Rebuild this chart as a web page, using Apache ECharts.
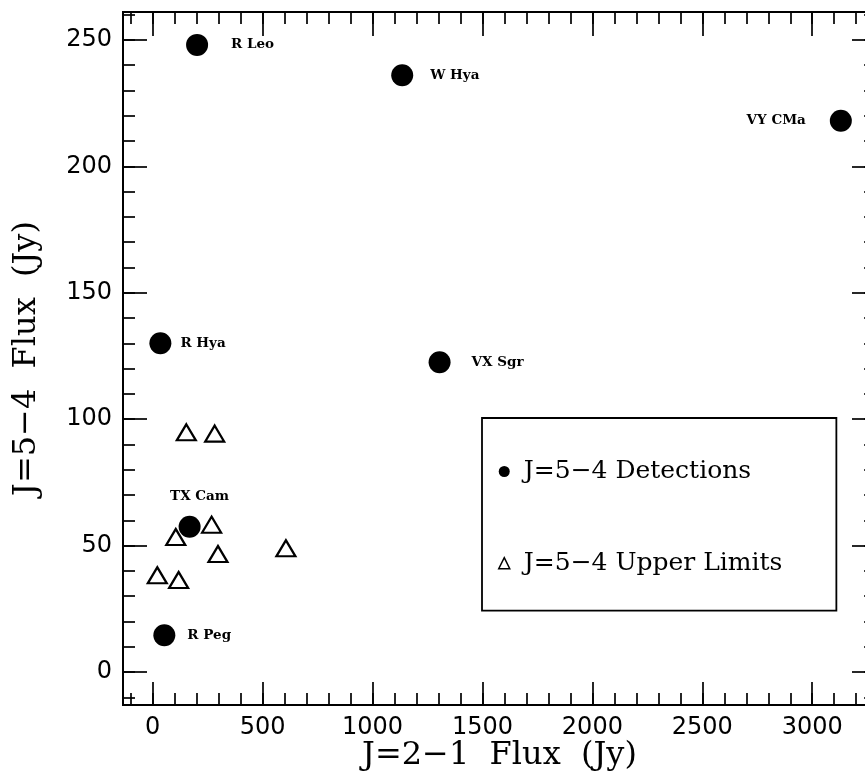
<!DOCTYPE html>
<html><head><meta charset="utf-8">
<script src="https://cdn.jsdelivr.net/npm/echarts@6/dist/echarts.min.js"></script>
<style>html,body{margin:0;padding:0;background:#fff}#c{width:865px;height:776px}</style>
</head><body><div id="c"></div>
<script>
// ---- data ----
const detNames = ['R Leo', 'W Hya', 'VY CMa', 'R Hya', 'VX Sgr', 'TX Cam', 'R Peg'];
const detJ21 = [202, 1135, 3130, 35, 1305, 168, 53];
const detJ54 = [248, 236, 218, 130, 122.5, 57.5, 14.6];
const limJ21 = [153, 282, 268, 105, 297, 606, 21, 118];
const limJ54 = [94.8, 94.3, 58.3, 53.4, 46.7, 49, 38.3, 36.4];
const xMajorTicks = [0, 500, 1000, 1500, 2000, 2500, 3000];
const yMajorTicks = [0, 50, 100, 150, 200, 250];
const xMinorTicks = [-100, 0, 100, 200, 300, 400, 500, 600, 700, 800, 900, 1000, 1100, 1200, 1300, 1400, 1500, 1600, 1700, 1800, 1900, 2000, 2100, 2200, 2300, 2400, 2500, 2600, 2700, 2800, 2900, 3000, 3100, 3200];
const yMinorTicks = [-10, 0, 10, 20, 30, 40, 50, 60, 70, 80, 90, 100, 110, 120, 130, 140, 150, 160, 170, 180, 190, 200, 210, 220, 230, 240, 250, 260];
const seriesNames = ['J=5\u22124 Detections', 'J=5\u22124 Upper Limits'];
const xTitle = 'J=2\u22121\u00a0\u00a0Flux\u00a0\u00a0(Jy)';
const yTitle = 'J=5\u22124\u00a0\u00a0Flux\u00a0\u00a0(Jy)';

// ---- styles ----
const X_MIN = -135, X_MAX = 3290, Y_MIN = -13, Y_MAX = 261;
const labelPlacement = {
  'R Leo': {position: 'right', distance: 23},
  'W Hya': {position: 'right', distance: 17},
  'VY CMa': {position: 'left', distance: 24},
  'R Hya': {position: 'right', distance: 9},
  'VX Sgr': {position: 'right', distance: 21},
  'TX Cam': {position: 'top', distance: 12, offset: [10, 0]},
  'R Peg': {position: 'right', distance: 12}
};
const gridRect = {left: 123, top: 12, width: 753, height: 693, outerBoundsMode: 'none', containLabel: false};
const lineStyle = {color: '#000', width: 2};

function xAxis(gridIndex, position, ticks, len, withLabels, name) {
  return {
    type: 'value', gridIndex, position, min: X_MIN, max: X_MAX,
    axisLine: {show: true, onZero: false, lineStyle},
    axisTick: {show: true, inside: true, length: len, customValues: ticks, lineStyle: {color: '#000', width: 1.7}},
    axisLabel: withLabels ? {show: true, customValues: xMajorTicks, formatter: v => String(v), color: '#000', fontSize: 24, fontFamily: 'DejaVu Sans', margin: 11} : {show: false},
    splitLine: {show: false},
    name: name || '', nameLocation: 'middle', nameGap: 35, nameMoveOverlap: false,
    nameTextStyle: {color: '#000', fontSize: 32, fontFamily: 'DejaVu Serif', verticalAlign: 'top'}
  };
}
function yAxis(gridIndex, position, ticks, len, withLabels, name) {
  return {
    type: 'value', gridIndex, position, min: Y_MIN, max: Y_MAX,
    axisLine: {show: true, onZero: false, lineStyle},
    axisTick: {show: true, inside: true, length: len, customValues: ticks, lineStyle: {color: '#000', width: 1.7}},
    axisLabel: withLabels ? {show: true, customValues: yMajorTicks, formatter: v => String(v), color: '#000', fontSize: 24, fontFamily: 'DejaVu Sans', margin: 11} : {show: false},
    splitLine: {show: false},
    name: name || '', nameLocation: 'middle', nameGap: 80, nameRotate: 90, nameMoveOverlap: false,
    nameTextStyle: {color: '#000', fontSize: 32, fontFamily: 'DejaVu Serif'}
  };
}

const detData = detNames.map((n, i) => ({
  name: n, value: [detJ21[i], detJ54[i]],
  label: Object.assign({show: true}, labelPlacement[n])
}));
const limData = limJ21.map((x, i) => [x, limJ54[i]]);

const chart = echarts.init(document.getElementById('c'), null, {renderer: 'canvas'});
chart.setOption({
  backgroundColor: '#fff',
  animation: false,
  grid: [Object.assign({}, gridRect), Object.assign({}, gridRect)],
  xAxis: [
    xAxis(0, 'bottom', xMajorTicks, 23, true, xTitle),
    xAxis(0, 'top', xMajorTicks, 24, false),
    xAxis(1, 'bottom', xMinorTicks, 12, false),
    xAxis(1, 'top', xMinorTicks, 12, false)
  ],
  yAxis: [
    yAxis(0, 'left', yMajorTicks, 24, true, yTitle),
    yAxis(0, 'right', yMajorTicks, 24, false),
    yAxis(1, 'left', yMinorTicks, 12, false),
    yAxis(1, 'right', yMinorTicks, 12, false)
  ],
  legend: {
    orient: 'vertical', left: 482, top: 418,
    padding: [41, 54, 35, 16], itemGap: 66.7,
    itemWidth: 11, itemHeight: 11,
    borderColor: '#000', borderWidth: 1.8,
    selectedMode: false,
    textStyle: {color: '#000', fontSize: 25, fontFamily: 'DejaVu Serif', lineHeight: 24, padding: [0, 0, 0, 9]},
    data: [
      {name: seriesNames[0], itemStyle: {opacity: 1, color: '#000'}},
      {name: seriesNames[1], itemStyle: {opacity: 1, borderWidth: 1.5, borderColor: '#000', color: '#fff'}}
    ]
  },
  series: [
    {
      name: seriesNames[1], type: 'scatter', xAxisIndex: 0, yAxisIndex: 0,
      symbol: 'triangle', symbolSize: [19, 16],
      itemStyle: {color: '#fff', borderColor: '#000', borderWidth: 2.2, opacity: 1},
      data: limData, z: 2
    },
    {
      name: seriesNames[0], type: 'scatter', xAxisIndex: 0, yAxisIndex: 0,
      symbol: 'circle', symbolSize: 22,
      itemStyle: {color: '#000', opacity: 1},
      label: {show: true, formatter: '{b}', color: '#000', fontSize: 13.5, fontWeight: 'bold', fontFamily: 'DejaVu Serif', lineHeight: 14},
      data: detData, z: 3
    }
  ]
});
</script>
</body></html>
